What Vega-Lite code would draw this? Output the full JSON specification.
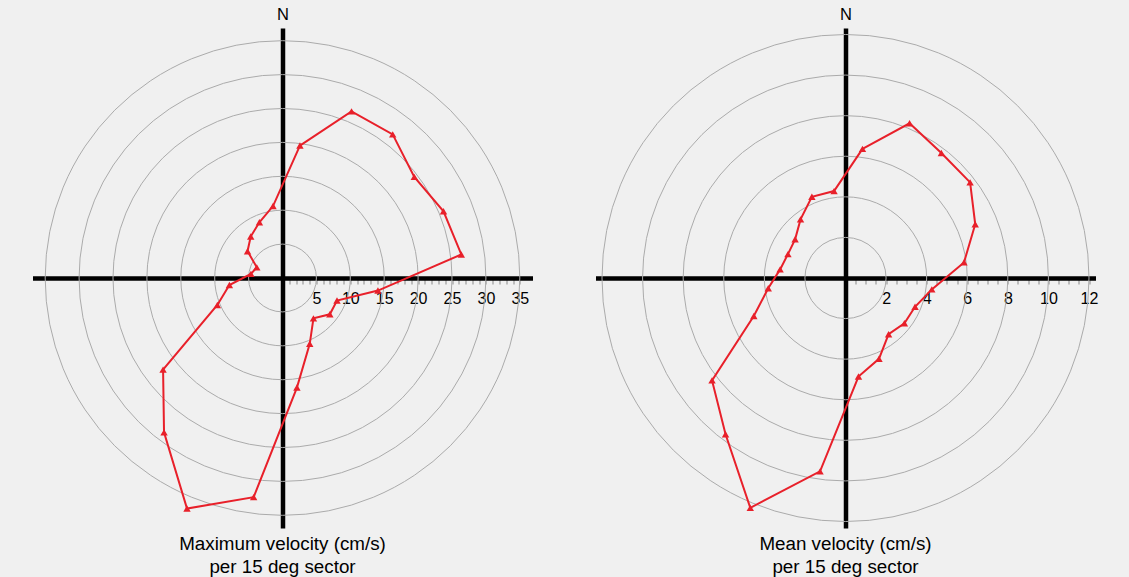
{
  "$schema": "https://vega.github.io/schema/vega-lite/v6.json",
  "background": "#f0f0f0",
  "padding": {"left": 32.5, "top": 6, "right": 40, "bottom": 10},
  "spacing": 63,
  "resolve": {"scale": {"size": "independent", "x": "independent", "y": "independent"}},
  "config": {
    "view": {"stroke": null},
    "font": "Liberation Sans",
    "axis": {"grid": false, "labelOverlap": false}
  },
  "datasets": {
    "maxv": [
      {"dir": 7.5, "speed": 19.7}, {"dir": 22.5, "speed": 26.6}, {"dir": 37.5, "speed": 26.7},
      {"dir": 52.5, "speed": 24.5}, {"dir": 67.5, "speed": 25.7}, {"dir": 82.5, "speed": 26.6},
      {"dir": 97.5, "speed": 14.2}, {"dir": 112.5, "speed": 8.7}, {"dir": 127.5, "speed": 8.8},
      {"dir": 142.5, "speed": 7.5}, {"dir": 157.5, "speed": 10.5}, {"dir": 172.5, "speed": 16.3},
      {"dir": 187.5, "speed": 32.6}, {"dir": 202.5, "speed": 36.8}, {"dir": 217.5, "speed": 28.7},
      {"dir": 232.5, "speed": 22.2}, {"dir": 247.5, "speed": 10.4}, {"dir": 262.5, "speed": 7.9},
      {"dir": 277.5, "speed": 4.7}, {"dir": 292.5, "speed": 4.1}, {"dir": 307.5, "speed": 6.5},
      {"dir": 322.5, "speed": 7.7}, {"dir": 337.5, "speed": 8.9}, {"dir": 352.5, "speed": 10.7}
    ],
    "meanv": [
      {"dir": 7.5, "speed": 6.42}, {"dir": 22.5, "speed": 8.25}, {"dir": 37.5, "speed": 7.76},
      {"dir": 52.5, "speed": 7.74}, {"dir": 67.5, "speed": 6.92}, {"dir": 82.5, "speed": 5.89},
      {"dir": 97.5, "speed": 4.29}, {"dir": 112.5, "speed": 3.71}, {"dir": 127.5, "speed": 3.66},
      {"dir": 142.5, "speed": 3.49}, {"dir": 157.5, "speed": 4.31}, {"dir": 172.5, "speed": 4.9},
      {"dir": 187.5, "speed": 9.61}, {"dir": 202.5, "speed": 12.26}, {"dir": 217.5, "speed": 9.71},
      {"dir": 232.5, "speed": 8.29}, {"dir": 247.5, "speed": 4.89}, {"dir": 262.5, "speed": 3.84},
      {"dir": 277.5, "speed": 3.25}, {"dir": 292.5, "speed": 3.07}, {"dir": 307.5, "speed": 3.13},
      {"dir": 322.5, "speed": 3.64}, {"dir": 337.5, "speed": 4.33}, {"dir": 352.5, "speed": 4.32}
    ],
    "ringsMax": [{"ring": 5}, {"ring": 10}, {"ring": 15}, {"ring": 20}, {"ring": 25}, {"ring": 30}, {"ring": 35}],
    "ringsMean": [{"ring": 2}, {"ring": 4}, {"ring": 6}, {"ring": 8}, {"ring": 10}, {"ring": 12}]
  },
  "hconcat": [
    {
      "width": 500,
      "height": 500,
      "title": {
        "text": ["Maximum velocity (cm/s)", "per 15 deg sector"],
        "orient": "bottom", "anchor": "middle", "offset": 7,
        "fontSize": 18.8, "fontWeight": "normal", "lineHeight": 22.5, "color": "#000000", "font": "Liberation Sans"
      },
      "layer": [
        {
          "data": {"name": "ringsMax"},
          "mark": {"type": "point", "shape": "circle", "filled": false, "color": "#ababab", "opacity": 1, "strokeWidth": 1},
          "encoding": {
            "x": {"datum": 0, "type": "quantitative",
                  "scale": {"domain": [-36.87, 36.87], "nice": false, "zero": false},
                  "axis": {"orient": "bottom", "offset": -250, "title": null,
                           "values": [1,2,3,4,5,6,7,8,9,10,11,12,13,14,15,16,17,18,19,20,21,22,23,24,25,26,27,28,29,30,31,32,33,34,35],
                           "labelExpr": "datum.value % 5 == 0 ? datum.label : ''",
                           "domainColor": "#000000", "domainWidth": 4.5,
                           "tickColor": "#888888", "tickWidth": 1, "tickSize": 6,
                           "labelPadding": 6, "labelFontSize": 16, "labelColor": "#000000", "labelFont": "Liberation Sans",
                           "labelOverlap": false, "labelFlush": false}},
            "y": {"datum": 0, "type": "quantitative",
                  "scale": {"domain": [-36.87, 36.87], "nice": false, "zero": false},
                  "axis": {"orient": "left", "offset": -250, "ticks": false, "labels": false,
                           "domainColor": "#000000", "domainWidth": 4.5,
                           "title": "N", "titleAngle": 0, "titleX": 0, "titleY": -8.5,
                           "titleAlign": "center", "titleBaseline": "alphabetic",
                           "titleFontSize": 16.5, "titleFontWeight": "normal", "titleColor": "#000000", "titleFont": "Liberation Sans"}},
            "size": {"field": "ring", "type": "quantitative", "scale": {"type": "pow", "exponent": 2, "domain": [0, 36.87], "range": [0, 250000], "zero": true, "nice": false}, "legend": null}
          }
        },
        {
          "data": {"name": "maxv"},
          "transform": [
            {"calculate": "datum.speed * sin(datum.dir * PI / 180)", "as": "east"},
            {"calculate": "datum.speed * cos(datum.dir * PI / 180)", "as": "north"}
          ],
          "mark": {"type": "line", "interpolate": "linear-closed", "color": "#e8202a", "strokeWidth": 2,
                   "point": {"shape": "triangle-up", "filled": true, "size": 55, "color": "#e8202a", "opacity": 1}},
          "encoding": {
            "x": {"field": "east", "type": "quantitative",
                  "scale": {"domain": [-36.87, 36.87], "nice": false, "zero": false},
                  "axis": {"orient": "bottom", "offset": -250, "title": null,
                           "values": [1,2,3,4,5,6,7,8,9,10,11,12,13,14,15,16,17,18,19,20,21,22,23,24,25,26,27,28,29,30,31,32,33,34,35],
                           "labelExpr": "datum.value % 5 == 0 ? datum.label : ''",
                           "domainColor": "#000000", "domainWidth": 4.5,
                           "tickColor": "#888888", "tickWidth": 1, "tickSize": 6,
                           "labelPadding": 6, "labelFontSize": 16, "labelColor": "#000000", "labelFont": "Liberation Sans",
                           "labelOverlap": false, "labelFlush": false}},
            "y": {"field": "north", "type": "quantitative",
                  "scale": {"domain": [-36.87, 36.87], "nice": false, "zero": false},
                  "axis": {"orient": "left", "offset": -250, "ticks": false, "labels": false,
                           "domainColor": "#000000", "domainWidth": 4.5,
                           "title": "N", "titleAngle": 0, "titleX": 0, "titleY": -8.5,
                           "titleAlign": "center", "titleBaseline": "alphabetic",
                           "titleFontSize": 16.5, "titleFontWeight": "normal", "titleColor": "#000000", "titleFont": "Liberation Sans"}},
            "order": {"field": "dir", "type": "quantitative"}
          }
        }
      ]
    },
    {
      "width": 500,
      "height": 500,
      "title": {
        "text": ["Mean velocity (cm/s)", "per 15 deg sector"],
        "orient": "bottom", "anchor": "middle", "offset": 7,
        "fontSize": 18.8, "fontWeight": "normal", "lineHeight": 22.5, "color": "#000000", "font": "Liberation Sans"
      },
      "layer": [
        {
          "data": {"name": "ringsMean"},
          "mark": {"type": "point", "shape": "circle", "filled": false, "color": "#ababab", "opacity": 1, "strokeWidth": 1},
          "encoding": {
            "x": {"datum": 0, "type": "quantitative",
                  "scale": {"domain": [-12.32, 12.32], "nice": false, "zero": false},
                  "axis": {"orient": "bottom", "offset": -250, "title": null,
                           "values": [0.5,1,1.5,2,2.5,3,3.5,4,4.5,5,5.5,6,6.5,7,7.5,8,8.5,9,9.5,10,10.5,11,11.5,12],
                           "labelExpr": "datum.value % 2 == 0 ? datum.label : ''",
                           "domainColor": "#000000", "domainWidth": 4.5,
                           "tickColor": "#888888", "tickWidth": 1, "tickSize": 6,
                           "labelPadding": 6, "labelFontSize": 16, "labelColor": "#000000", "labelFont": "Liberation Sans",
                           "labelOverlap": false, "labelFlush": false}},
            "y": {"datum": 0, "type": "quantitative",
                  "scale": {"domain": [-12.32, 12.32], "nice": false, "zero": false},
                  "axis": {"orient": "left", "offset": -250, "ticks": false, "labels": false,
                           "domainColor": "#000000", "domainWidth": 4.5,
                           "title": "N", "titleAngle": 0, "titleX": 0, "titleY": -8.5,
                           "titleAlign": "center", "titleBaseline": "alphabetic",
                           "titleFontSize": 16.5, "titleFontWeight": "normal", "titleColor": "#000000", "titleFont": "Liberation Sans"}},
            "size": {"field": "ring", "type": "quantitative", "scale": {"type": "pow", "exponent": 2, "domain": [0, 12.32], "range": [0, 250000], "zero": true, "nice": false}, "legend": null}
          }
        },
        {
          "data": {"name": "meanv"},
          "transform": [
            {"calculate": "datum.speed * sin(datum.dir * PI / 180)", "as": "east"},
            {"calculate": "datum.speed * cos(datum.dir * PI / 180)", "as": "north"}
          ],
          "mark": {"type": "line", "interpolate": "linear-closed", "color": "#e8202a", "strokeWidth": 2,
                   "point": {"shape": "triangle-up", "filled": true, "size": 55, "color": "#e8202a", "opacity": 1}},
          "encoding": {
            "x": {"field": "east", "type": "quantitative",
                  "scale": {"domain": [-12.32, 12.32], "nice": false, "zero": false},
                  "axis": {"orient": "bottom", "offset": -250, "title": null,
                           "values": [0.5,1,1.5,2,2.5,3,3.5,4,4.5,5,5.5,6,6.5,7,7.5,8,8.5,9,9.5,10,10.5,11,11.5,12],
                           "labelExpr": "datum.value % 2 == 0 ? datum.label : ''",
                           "domainColor": "#000000", "domainWidth": 4.5,
                           "tickColor": "#888888", "tickWidth": 1, "tickSize": 6,
                           "labelPadding": 6, "labelFontSize": 16, "labelColor": "#000000", "labelFont": "Liberation Sans",
                           "labelOverlap": false, "labelFlush": false}},
            "y": {"field": "north", "type": "quantitative",
                  "scale": {"domain": [-12.32, 12.32], "nice": false, "zero": false},
                  "axis": {"orient": "left", "offset": -250, "ticks": false, "labels": false,
                           "domainColor": "#000000", "domainWidth": 4.5,
                           "title": "N", "titleAngle": 0, "titleX": 0, "titleY": -8.5,
                           "titleAlign": "center", "titleBaseline": "alphabetic",
                           "titleFontSize": 16.5, "titleFontWeight": "normal", "titleColor": "#000000", "titleFont": "Liberation Sans"}},
            "order": {"field": "dir", "type": "quantitative"}
          }
        }
      ]
    }
  ]
}
